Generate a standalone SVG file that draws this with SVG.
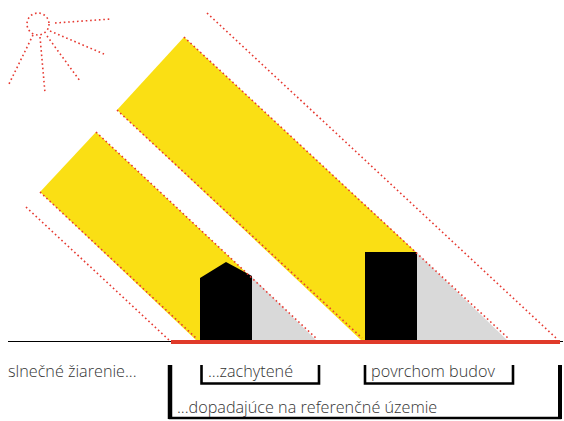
<svg xmlns="http://www.w3.org/2000/svg" width="564" height="421" viewBox="0 0 564 421">
  <style>
    .dot { fill: none; stroke: #e63a32; stroke-width: 1.6; stroke-dasharray: 1.6 2.8; }
    .beam { fill: #fadf14; }
    .shade { fill: #d9d9d9; }
    .bldg { fill: #000; }
    .brk { fill: none; stroke: #000; stroke-width: 2.6; }
    .lbl { font-family: "Open Sans", "Liberation Sans", sans-serif; font-size: 16.2px; font-weight: 300; fill: #333; }
  </style>

  <!-- sun -->
  <g id="sun">
    <circle class="dot" cx="38" cy="24" r="11"/>
    <line class="dot" x1="55" y1="23" x2="111" y2="19"/>
    <line class="dot" x1="50" y1="31" x2="104" y2="54"/>
    <line class="dot" x1="47" y1="36" x2="80" y2="81"/>
    <line class="dot" x1="40" y1="37" x2="45" y2="93"/>
    <line class="dot" x1="33" y1="35" x2="8" y2="86"/>
  </g>

  <!-- light beams -->
  <g id="beam-small">
    <polygon class="beam" points="40,192 96,132 252,278 252,341 197,341"/>
  </g>
  <g id="beam-large">
    <polygon class="beam" points="117,110 184,37 417,253 417,341 362,341"/>
  </g>

  <!-- shadows -->
  <g id="shadow-small">
    <polygon class="shade" points="252,277 317,341 252,341"/>
  </g>
  <g id="shadow-large">
    <polygon class="shade" points="417,253 508,341 417,341"/>
  </g>

  <!-- buildings -->
  <g id="house">
    <polygon class="bldg" points="200,341 200,278 226,262 252,276 252,341"/>
  </g>
  <g id="block">
    <rect class="bldg" x="365" y="252" width="52" height="89"/>
  </g>

  <!-- ray edges and ground -->
  <g id="connectors">
    <line class="dot" x1="26" y1="207" x2="170" y2="341"/>
    <line class="dot" x1="40" y1="192" x2="196" y2="338"/>
    <line class="dot" x1="96" y1="132" x2="317" y2="339"/>
    <line class="dot" x1="117" y1="110" x2="362" y2="338"/>
    <line class="dot" x1="184" y1="37" x2="508" y2="338"/>
    <line class="dot" x1="207" y1="13" x2="556" y2="338"/>
    <line x1="8" y1="341.5" x2="563" y2="341.5" stroke="#000" stroke-width="1"/>
    <line x1="171" y1="342" x2="560" y2="342" stroke="#e03a2a" stroke-width="4"/>
  </g>

  <!-- brackets -->
  <g id="bracket-all">
    <polyline class="brk" points="170,365 170,418 560,418 560,365"/>
    <line x1="170" y1="365" x2="170" y2="419" stroke="#000" stroke-width="4.5"/>
    <line x1="560" y1="365" x2="560" y2="419" stroke="#000" stroke-width="4"/>
  </g>
  <g id="bracket-captured">
    <polyline class="brk" points="201.5,365 201.5,383.5 319,383.5 319,365"/>
  </g>
  <g id="bracket-roofs">
    <polyline class="brk" points="365,365 365,383.5 513,383.5 513,365"/>
  </g>

  <!-- labels -->
  <g id="labels">
    <text class="lbl" x="8" y="377">slnečné žiarenie...</text>
    <text class="lbl" x="208" y="377">...zachytené</text>
    <text class="lbl" x="371" y="377">povrchom budov</text>
    <text class="lbl" x="177" y="413">...dopadajúce na referenčné územie</text>
  </g>
</svg>
